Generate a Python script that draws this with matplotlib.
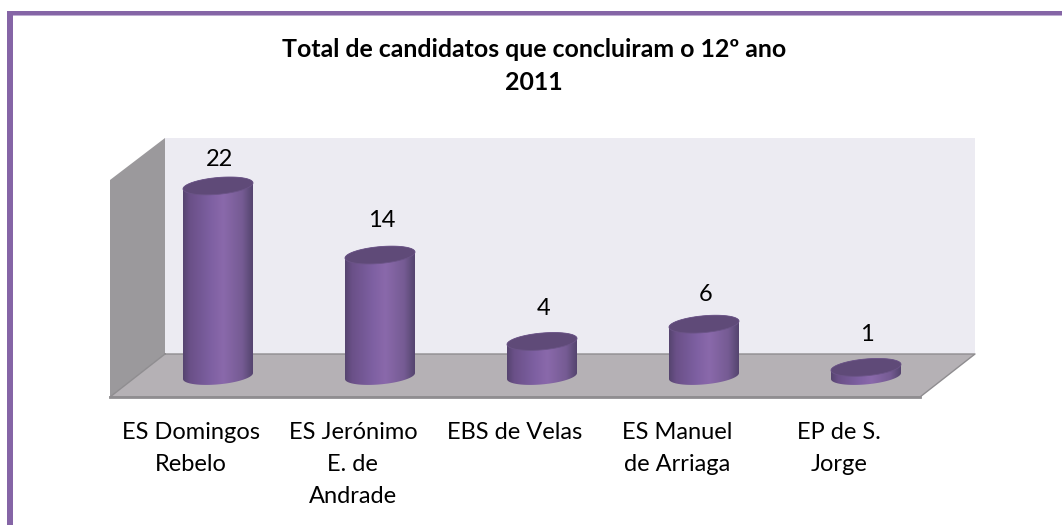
import numpy as np
import matplotlib
matplotlib.use('Agg')
import matplotlib.pyplot as plt
from matplotlib.colors import LinearSegmentedColormap
from matplotlib.patches import Polygon
from matplotlib.transforms import Affine2D, IdentityTransform

escolas = ['ES Domingos\nRebelo', 'ES Jerónimo\nE. de\nAndrade', 'EBS de Velas',
           'ES Manuel\nde Arriaga', 'EP de S.\nJorge']
valores = [22, 14, 4, 6, 1]
titulo = 'Total de candidatos que concluiram o 12º ano\n2011'

plt.rcParams['font.family'] = ['Lato', 'DejaVu Sans']

W, H = 1062, 525
fig = plt.figure(figsize=(W / 100, H / 100), dpi=100, facecolor='white')
ax = fig.add_axes([0, 0, 1, 1])
ax.axis('off')

# category 0 sits at x=218px, one category = 162px, value 0 at y=376px, one unit = 8.64px
xlim = (-218 / 162, (W - 218) / 162)
ylim = ((376 - H) / 8.64, 376 / 8.64)

# everything that is decoration is placed in image pixels (y going down)
px = Affine2D().scale(1, -1).translate(0, H)
ident = IdentityTransform()


def deco(points, color, z=1):
    ax.add_patch(Polygon(points, closed=True, facecolor=color, edgecolor='none',
                         transform=px, zorder=z))


# frame
deco([(7, 11), (W, 11), (W, 15), (13, 15), (13, H), (7, H)], '#8565a6')
deco([(13, 15), (W, 15), (W, 16), (13, 16)], '#bfaed2')

# walls and floor
deco([(165, 138), (975, 138), (975, 354), (165, 354)], '#ecebf2')
deco([(110, 180), (165, 138), (165, 354), (110, 397)], '#9b999c')
deco([(165, 354), (975, 354), (920, 397), (110, 397)], '#b5b1b5')
ax.plot([165, 975, 920, 110, 165], [354, 354, 397, 397, 354], color='#8f8d90', lw=1,
        transform=px, zorder=2)
ax.plot([110, 920], [397, 397], color='#8f8d90', lw=2, transform=px, zorder=2)

cmap = LinearSegmentedColormap.from_list('cil', [(0, '#55446f'), (0.1, '#6a5088'), (0.4, '#7e60a2'),
                                                 (0.58, '#8a69ab'), (0.85, '#755b93'),
                                                 (0.95, '#5f4c7a'), (1, '#55446f')])
grad = np.linspace(0, 1, 256).reshape(1, -1)

a = 35
b = 8.4
slope = 3 / 35
t = np.linspace(0, 2 * np.pi, 121)


def ring(cx, cy, t):
    # tilted ellipse around a centre in display pixels
    return np.column_stack([cx + a * np.cos(t), cy + b * np.sin(t) + slope * a * np.cos(t)])


ax.set_xlim(xlim)
ax.set_ylim(ylim)

for i, v in enumerate(valores):
    cx, y_base = ax.transData.transform((i, 0))
    _, y_top = ax.transData.transform((i, v))
    # body: lower half of the base ring and the top ring closed over it
    low = ring(cx, y_base, np.linspace(np.pi, 2 * np.pi, 60))
    up = ring(cx, y_top, np.linspace(0, np.pi, 60))
    body = Polygon(np.vstack([low, up]), closed=True, transform=ident, facecolor='none',
                   edgecolor='none')
    ax.add_patch(body)
    im = ax.imshow(grad, cmap=cmap, aspect='auto', zorder=3,
                   extent=(i - a / 162, i + a / 162, -1.5, v + 1.5))
    im.set_clip_path(body)
    ax.add_patch(Polygon(ring(cx, y_top, t), closed=True, facecolor='#5f4a78',
                         edgecolor='#6b5487', lw=0.6, transform=ident, zorder=4))

# imshow moves the limits
ax.set_xlim(xlim)
ax.set_ylim(ylim)

# offsets in points above the top of each cylinder
desloc = [19, 25, 24, 21, 23.5]
for i, v in enumerate(valores):
    ax.annotate(str(v), (i, v), xytext=(1, desloc[i]), textcoords='offset points',
                ha='center', va='center', fontsize=17, color='black', zorder=5)

for i, nome in enumerate(escolas):
    ax.annotate(nome, (i, 0), xytext=(-19.5, -33), textcoords='offset points', ha='center',
                va='top', fontsize=17, linespacing=1.65, color='black', zorder=5)

ax.text(534, 66, titulo, transform=px, ha='center', va='center', fontsize=17.9,
        fontweight='bold', linespacing=1.55, color='black', zorder=5)

fig.savefig('out.png', dpi=100, facecolor='white')
